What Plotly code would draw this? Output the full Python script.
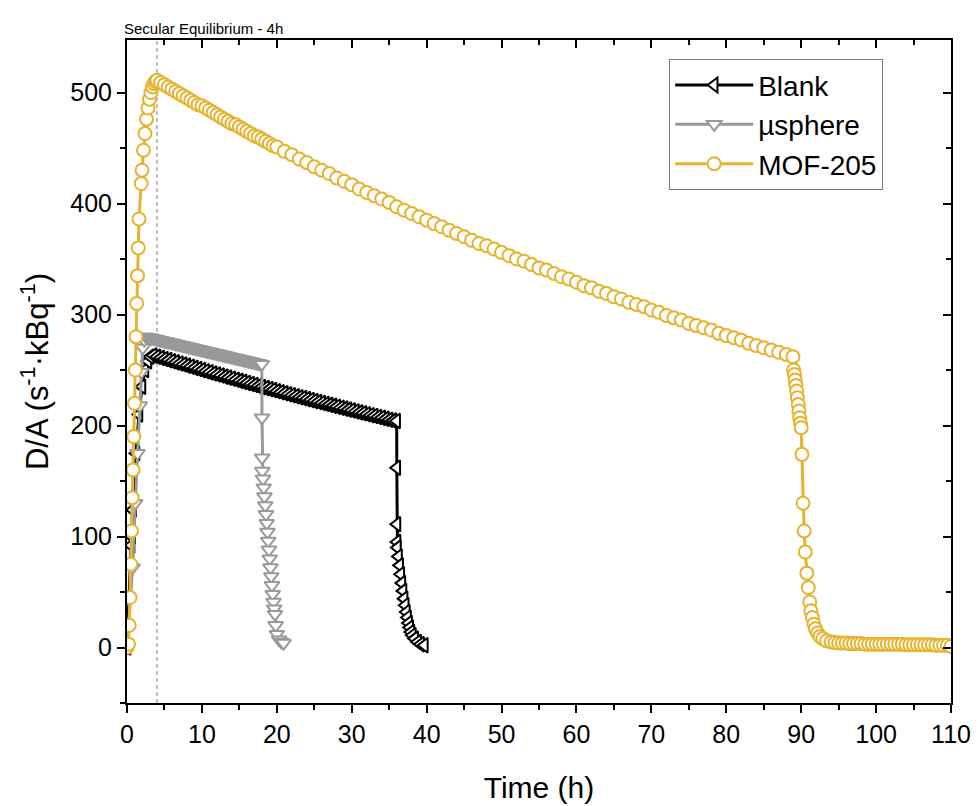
import plotly.graph_objects as go

# ---------------- data ----------------
blank_t = [0, 0.55, 0.6, 0.75, 0.8, 1.2, 1.6, 2.0, 2.4, 2.8, 3.1,
           3.5, 4.0, 4.5, 5.0, 5.5, 6.0, 6.5, 7.0, 7.5, 8.0, 8.5, 9.0, 9.5, 10.0,
           10.5, 11.0, 11.5, 12.0, 12.5, 13.0, 13.5, 14.0, 14.5, 15.0, 15.5, 16.0,
           16.5, 17.0, 17.5, 18.0, 18.5, 19.0, 19.5, 20.0, 20.5, 21.0, 21.5, 22.0,
           22.5, 23.0, 23.5, 24.0, 24.5, 25.0, 25.5, 26.0, 26.5, 27.0, 27.5, 28.0,
           28.5, 29.0, 29.5, 30.0, 30.5, 31.0, 31.5, 32.0, 32.5, 33.0, 33.5, 34.0,
           34.5, 35.0, 35.5,
           36.0, 36.02, 36.04, 36.06, 36.1, 36.25, 36.4, 36.55, 36.7, 36.85, 37.0,
           37.15, 37.3, 37.45, 37.6, 37.75, 37.9, 38.1, 38.4, 38.8, 39.2, 39.7]
blank_v = [0, 92, 100, 124, 132, 175, 210, 235, 250, 258, 262,
           263.0, 262.0, 260.9, 259.9, 258.9, 257.9, 256.9, 255.9, 254.9, 253.9, 252.9,
           251.9, 250.9, 249.9, 248.9, 247.9, 246.9, 246.0, 245.0, 244.0, 243.1, 242.1,
           241.2, 240.2, 239.3, 238.3, 237.4, 236.5, 235.5, 234.6, 233.7, 232.8, 231.9,
           230.9, 230.0, 229.1, 228.2, 227.3, 226.4, 225.5, 224.7, 223.8, 222.9, 222.0,
           221.2, 220.3, 219.4, 218.6, 217.7, 216.9, 216.0, 215.2, 214.3, 213.5, 212.6,
           211.8, 211.0, 210.1, 209.3, 208.5, 207.7, 206.9, 206.0, 205.2, 204.4,
           204, 162, 111, 95, 90, 82, 74, 66, 58, 51, 44,
           38, 32, 27, 22, 18, 14, 11, 8, 5, 3, 2]

usphere_t = [0, 0.75, 1.1, 1.4, 1.7, 1.9, 2.1, 2.3,
             2.5, 2.75, 3.0, 3.25, 3.5, 3.75, 4.0, 4.25, 4.5, 4.75, 5.0, 5.25, 5.5,
             5.75, 6.0, 6.25, 6.5, 6.75, 7.0, 7.25, 7.5, 7.75, 8.0, 8.25, 8.5, 8.75,
             9.0, 9.25, 9.5, 9.75, 10.0, 10.25, 10.5, 10.75, 11.0, 11.25, 11.5, 11.75,
             12.0, 12.25, 12.5, 12.75, 13.0, 13.25, 13.5, 13.75, 14.0, 14.25, 14.5,
             14.75, 15.0, 15.25, 15.5, 15.75, 16.0, 16.25, 16.5, 16.75, 17.0, 17.25,
             17.5, 17.75, 18.0,
             18.02, 18.04, 18.06, 18.15, 18.25, 18.35, 18.45, 18.55, 18.65, 18.75,
             18.85, 18.95, 19.05, 19.15, 19.25, 19.35, 19.45, 19.55, 19.65, 19.75,
             19.85, 20.0, 20.3, 20.6, 20.9]
usphere_v = [0, 72, 130, 175, 218, 248, 270, 277,
             280.0, 279.6, 279.2, 278.8, 278.4, 278.0, 277.6, 277.2, 276.8, 276.4, 276.0,
             275.6, 275.2, 274.8, 274.4, 274.0, 273.6, 273.2, 272.8, 272.4, 272.0, 271.6,
             271.2, 270.8, 270.4, 270.0, 269.6, 269.2, 268.8, 268.4, 268.0, 267.6, 267.2,
             266.8, 266.4, 266.0, 265.6, 265.2, 264.8, 264.4, 264.0, 263.6, 263.2, 262.8,
             262.4, 262.0, 261.6, 261.2, 260.8, 260.4, 260.0, 259.6, 259.2, 258.8, 258.4,
             258.0, 257.6, 257.2, 256.8, 256.4, 256.0, 255.6, 255.2,
             207, 171, 159, 152, 144, 136, 128, 120, 112, 104,
             96, 88, 80, 72, 64, 56, 48, 41, 35, 30,
             20, 12, 7, 5, 4]

mof_t = [0, 0.2, 0.3, 0.4, 0.5, 0.6, 0.7, 0.8, 0.9, 1.0, 1.1, 1.2, 1.3, 1.4, 1.5, 1.6,
         1.9, 2.0, 2.2, 2.4, 2.6, 2.8, 3.0, 3.2, 3.4, 3.6, 3.8,
         4.0, 4.5, 5.0, 5.5, 6.0, 6.5, 7.0, 7.5, 8.0, 8.5, 9.0, 9.5, 10.0, 10.5, 11.0,
         11.5, 12.0, 12.5, 13.0, 13.5, 14.0, 14.5, 15.0, 15.5, 16.0, 16.5, 17.0, 17.5,
         18.0, 18.5, 19.0, 19.5, 20.0,
         21, 22, 23, 24, 25, 26, 27, 28, 29, 30, 31, 32, 33, 34, 35, 36, 37, 38, 39, 40,
         41, 42, 43, 44, 45, 46, 47, 48, 49, 50, 51, 52, 53, 54, 55, 56, 57, 58, 59, 60,
         61, 62, 63, 64, 65, 66, 67, 68, 69, 70, 71, 72, 73, 74, 75, 76, 77, 78, 79, 80,
         81, 82, 83, 84, 85, 86, 87, 88,
         88.9, 89.0, 89.1, 89.2, 89.3, 89.4, 89.5, 89.6, 89.7, 89.8, 89.9, 90.0, 90.1,
         90.25, 90.4, 90.55, 90.75, 90.95, 91.15, 91.3, 91.5, 91.7, 91.9, 92.2, 92.5,
         92.9, 93.4, 94.0,
         94.5, 95.0, 95.5, 96.0, 96.5, 97.0, 97.5, 98.0, 98.5, 99.0, 99.5, 100.0, 100.5,
         101.0, 101.5, 102.0, 102.5, 103.0, 103.5, 104.0, 104.5, 105.0, 105.5, 106.0,
         106.5, 107.0, 107.5, 108.0, 108.5, 109.0, 109.5, 110.0]
mof_v = [0, 3, 20, 45, 75, 105, 135, 160, 190, 220, 250, 280, 310, 335, 360, 386,
         418, 430, 448, 463, 476, 486, 494, 500, 505, 508, 510,
         511, 509, 507, 505, 503, 501, 499, 497, 495, 493, 491, 489, 488, 486, 484,
         482, 480, 478, 476, 474, 472, 471, 469, 467, 465, 463, 461, 460,
         458, 456, 454, 452, 451,
         447, 444, 440, 437, 433, 430, 427, 423, 420, 417, 413, 410, 407, 404, 401, 397,
         394, 391, 388, 385, 382, 379, 376, 373, 370, 367, 364, 362, 359, 356, 353, 350,
         348, 345, 342, 340, 337, 334, 332, 329, 326, 324, 321, 319, 316, 314, 311, 309,
         307, 304, 302, 299, 297, 295, 292, 290, 288, 286, 283, 281, 279, 277, 274, 272,
         270, 268, 266, 264,
         262, 250, 246, 241, 236, 231, 225, 219, 213, 207, 202, 198, 174,
         130, 105, 86, 67, 54, 41, 33, 27, 21, 17, 13, 10,
         8, 6, 5,
         4.5, 4, 4, 4, 3.5, 3.5, 3.5, 3.5, 3, 3, 3, 3, 3,
         3, 3, 3, 3, 3, 3, 2.5, 2.5, 2.5, 2.5, 2.5,
         2.5, 2.5, 2.5, 2, 2, 2, 2, 1]

series_names = ["Blank", "\u00b5sphere", "MOF-205"]
secular_t = 4
annotation_text = "Secular Equilibrium - 4h"
x_ticks = [0, 10, 20, 30, 40, 50, 60, 70, 80, 90, 100, 110]
y_ticks = [0, 100, 200, 300, 400, 500]

# ---------------- styling ----------------
FONT = "Liberation Sans, Arial, sans-serif"
GOLD = "#E6B32E"
GRAY = "#999999"
BLACK = "#000000"

fig = go.Figure()
specs = [
    (blank_t, blank_v, series_names[0], BLACK, "triangle-left", 13),
    (usphere_t, usphere_v, series_names[1], GRAY, "triangle-down", 13),
    (mof_t, mof_v, series_names[2], GOLD, "circle", 13),
]
for t, v, name, col, sym, size in specs:
    fig.add_trace(go.Scatter(
        x=t, y=v, name=name, mode="lines+markers",
        line=dict(color=col, width=3),
        marker=dict(symbol=sym, size=size, color="white",
                    line=dict(color=col, width=2)),
    ))

# invisible helper trace so that the mirrored (top / right) axes get drawn
fig.add_trace(go.Scatter(x=mof_t, y=mof_v, xaxis="x2", yaxis="y2", mode="lines",
                         line=dict(width=0), opacity=0, showlegend=False,
                         hoverinfo="skip"))

XR = [0, 110]
YR = [-50, 547.3]
axis_common = dict(showgrid=False, zeroline=False, linecolor="black", linewidth=2,
                   tickcolor="black", tickwidth=2, ticklen=8, automargin=False,
                   tickfont=dict(family=FONT, size=25, color="black"))
mirror_common = dict(showticklabels=False, showline=True, linecolor="black", linewidth=2,
                     showgrid=False, zeroline=False, tickcolor="black", tickwidth=2,
                     ticklen=8, ticks="inside", automargin=False)

fig.update_layout(
    width=980, height=806,
    margin=dict(l=127, r=29, t=40, b=103),
    paper_bgcolor="white", plot_bgcolor="white",
    font=dict(family=FONT, color="black"),
    showlegend=True,
    legend=dict(x=0.658, y=0.971, xanchor="left", yanchor="top",
                bgcolor="white", bordercolor="#777777", borderwidth=1,
                font=dict(family=FONT, size=28, color="black"),
                itemwidth=78, tracegroupgap=0),
    xaxis=dict(range=XR, tickvals=x_ticks, ticks="outside", showline=True,
               minor=dict(ticks="outside", ticklen=5, tickwidth=2, dtick=5, tickcolor="black"),
               title=dict(text="Time (h)", font=dict(family=FONT, size=30, color="black"),
                          standoff=30),
               **axis_common),
    yaxis=dict(range=YR, tickvals=y_ticks, ticks="outside", showline=True,
               minor=dict(ticks="outside", ticklen=5, tickwidth=2, dtick=50, tickcolor="black"),
               title=dict(text="D/A (s<sup>-1</sup>\u00b7kBq<sup>-1</sup>)",
                          font=dict(family=FONT, size=31, color="black"), standoff=12),
               **axis_common),
    xaxis2=dict(range=XR, overlaying="x", side="top", anchor="y2", tickvals=x_ticks,
                minor=dict(ticks="inside", ticklen=5, tickwidth=2, dtick=5, tickcolor="black"),
                **mirror_common),
    yaxis2=dict(range=YR, overlaying="y", side="right", anchor="x2", tickvals=y_ticks,
                minor=dict(ticks="inside", ticklen=5, tickwidth=2, dtick=50, tickcolor="black"),
                **mirror_common),
)

fig.add_shape(type="line", x0=secular_t, x1=secular_t, y0=0, y1=1, xref="x", yref="paper",
              line=dict(color="#9a9a9a", width=1.3, dash="4px,3px"), layer="below")

fig.add_annotation(text=annotation_text, x=0, y=1, xref="paper", yref="paper",
                   xanchor="left", yanchor="bottom", xshift=-5, yshift=1, showarrow=False,
                   font=dict(family=FONT, size=15, color="black"))

# remove the browser's default 8px body margin so the figure sits at the page origin
fig.write_html("out.html",
               config={"displayModeBar": False},
               post_script="document.body.style.margin='0px';"
                           "document.body.style.overflow='hidden';")
